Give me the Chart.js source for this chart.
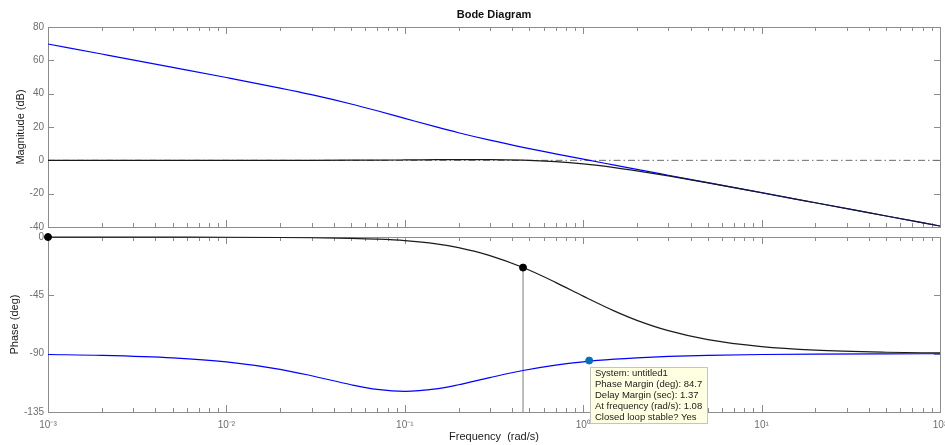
<!DOCTYPE html>
<html>
<head>
<meta charset="utf-8">
<script src="https://cdn.jsdelivr.net/npm/chart.js@4.4.1/dist/chart.umd.min.js"></script>
<style>
body { margin: 0; background: #fff; }
#wrap { position: relative; width: 945px; height: 445px; overflow: hidden; }
#mag { position: absolute; left: 0; top: 0; }
#phase { position: absolute; left: 0; top: 226px; }
</style>
</head>
<body>
<div id="wrap">
	<canvas id="mag" width="945" height="240"></canvas>
	<canvas id="phase" width="945" height="219"></canvas>
</div>
<script>
// values (rad/s, dB, deg)
var freq = [0.001, 0.002, 0.005, 0.01, 0.02, 0.03, 0.05, 0.07, 0.1, 0.15, 0.2, 0.3, 0.46, 0.7, 1, 1.5, 2, 3, 5, 10, 20, 50, 100];
var magOpen = [69.8, 63.78, 55.79, 49.69, 43.37, 39.39, 33.82, 29.75, 25.19, 20.03, 16.56, 12.08, 7.8, 3.9, 0.68, -2.89, -5.42, -8.95, -13.39, -19.42, -25.44, -33.4, -39.42];
var magClosed = [0, 0, 0, 0, 0.01, 0.03, 0.07, 0.13, 0.23, 0.37, 0.45, 0.44, 0.08, -0.83, -2.18, -4.38, -6.31, -9.37, -13.54, -19.46, -25.45, -33.4, -39.42];
var phaseOpen = [-90.64, -91.27, -93.18, -96.28, -102.07, -107.02, -113.98, -117.58, -119.08, -117.18, -113.98, -108.45, -103.0, -98.85, -96.28, -94.23, -93.18, -92.12, -91.28, -90.63, -90.32, -90.13, -90.06];
var phaseClosed = [-0.02, -0.04, -0.1, -0.19, -0.38, -0.58, -1.08, -1.68, -2.82, -5.32, -8.22, -14.37, -23.58, -34.98, -45.63, -57.19, -64.29, -72.25, -79.15, -84.52, -87.26, -88.9, -89.46];
var magTicks = [-40, -20, 0, 20, 40, 60, 80];
var phaseTicks = [-135, -90, -45, 0];
var crossFreq = 0.46, crossPhase = -23.58;
var marginFreq = 1.08, marginPhase = -95.3;
var marginText = ["System: untitled1", "Phase Margin (deg): 84.7", "Delay Margin (sec): 1.37", "At frequency (rad/s): 1.08", "Closed loop stable? Yes"];

Chart.defaults.font.family = "'Liberation Sans', Arial, sans-serif";

function pts(ys) {
	return freq.map(function (f, i) { return { x: f, y: ys[i] }; });
}

var sup = { "-": "\u207B", "0": "\u2070", "1": "\u00B9", "2": "\u00B2", "3": "\u00B3" };
function decadeLabel(v) {
	var e = Math.round(Math.log10(v));
	if (Math.abs(v / Math.pow(10, e) - 1) > 1e-6) return "";
	return "10" + String(e).split("").map(function (c) { return sup[c]; }).join("");
}

// matlab style box with inward ticks
var frame = {
	id: "frame",
	beforeDatasetsDraw: function (chart) {
		var ctx = chart.ctx, a = chart.chartArea, xs = chart.scales.x, ys = chart.scales.y;
		ctx.save();
		ctx.strokeStyle = "#8c8c8c";
		ctx.lineWidth = 1;
		ctx.beginPath();
		for (var e = -3; e <= 2; e++) {
			for (var k = 1; k <= 9; k++) {
				var v = k * Math.pow(10, e);
				if (v > 100.001) break;
				var px = Math.round(xs.getPixelForValue(v)) + 0.5;
				var len = k === 1 ? 7 : 4;
				ctx.moveTo(px, a.top); ctx.lineTo(px, a.top + len);
				ctx.moveTo(px, a.bottom); ctx.lineTo(px, a.bottom - len);
			}
		}
		ys.ticks.forEach(function (t) {
			var py = Math.round(ys.getPixelForValue(t.value)) + 0.5;
			ctx.moveTo(a.left, py); ctx.lineTo(a.left + 6, py);
			ctx.moveTo(a.right, py); ctx.lineTo(a.right - 6, py);
		});
		ctx.stroke();
		ctx.strokeRect(Math.round(a.left) + 0.5, Math.round(a.top) + 0.5, Math.round(a.right - a.left), Math.round(a.bottom - a.top));
		ctx.restore();
	}
};

var dataTip = {
	id: "dataTip",
	afterDraw: function (chart) {
		var ctx = chart.ctx, xs = chart.scales.x, ys = chart.scales.y;
		var x0 = Math.round(xs.getPixelForValue(marginFreq)) + 1;
		var y0 = Math.round(ys.getPixelForValue(marginPhase)) + 6;
		ctx.save();
		ctx.fillStyle = "#ffffe1";
		ctx.fillRect(x0, y0, 117, 56);
		ctx.strokeStyle = "#c4c4c4";
		ctx.strokeRect(x0 + 0.5, y0 + 0.5, 117, 56);
		ctx.fillStyle = "#1a1a1a";
		ctx.font = "9.5px 'Liberation Sans', Arial, sans-serif";
		ctx.textBaseline = "middle";
		marginText.forEach(function (s, i) {
			ctx.fillText(s, x0 + 5, y0 + 6 + i * 11.2);
		});
		ctx.restore();
	}
};

new Chart(document.getElementById("mag"), {
	type: "line",
	data: {
		datasets: [
			{ data: pts(magClosed), borderColor: "#1a1a1a", borderWidth: 1.2, order: 1 },
			{ data: pts(magOpen), borderColor: "#0000ff", borderWidth: 1.2, order: 2 },
			{ data: [{ x: freq[0], y: 0 }, { x: freq[freq.length - 1], y: 0 }], borderColor: "#6a6a6a", borderWidth: 1, borderDash: [7, 3, 1.5, 3], order: 3 },
		],
	},
	options: {
		responsive: false,
		animation: false,
		events: [],
		layout: { padding: { top: 0, right: 5, bottom: 13, left: 0 } },
		elements: { point: { radius: 0 }, line: { cubicInterpolationMode: "monotone", fill: false } },
		plugins: {
			legend: { display: false },
			tooltip: { enabled: false },
			title: {
				display: true,
				text: "Bode Diagram",
				fullSize: false,
				color: "#111",
				font: { size: 11, weight: "bold" },
				padding: { top: 8, bottom: 5.8 },
			},
		},
		scales: {
			x: {
				type: "logarithmic",
				min: 0.001,
				max: 100,
				grid: { display: false, drawTicks: false },
				border: { display: false },
				ticks: { display: false },
				afterFit: function (s) { s.height = 0; s.paddingLeft = 0; s.paddingRight = 0; },
			},
			y: {
				min: -40,
				max: 80,
				afterBuildTicks: function (s) { s.ticks = magTicks.map(function (v) { return { value: v }; }); },
				grid: { display: false, drawTicks: false },
				border: { display: false },
				ticks: { color: "#6e6e6e", font: { size: 10 }, padding: 4 },
				title: { display: true, text: "Magnitude (dB)", color: "#1a1a1a", font: { size: 11 }, padding: { top: 14, bottom: 0 } },
				afterFit: function (s) { s.width = 48; },
			},
		},
	},
	plugins: [frame],
});

new Chart(document.getElementById("phase"), {
	type: "line",
	data: {
		datasets: [
			{ data: [{ x: freq[0], y: phaseClosed[0] }, { x: crossFreq, y: crossPhase }], showLine: false, pointRadius: 3.5, pointBackgroundColor: "#000", pointBorderColor: "#000", clip: false, order: 0 },
			{ data: [{ x: marginFreq, y: marginPhase }], showLine: false, pointRadius: 3.5, pointBackgroundColor: "#0072bd", pointBorderColor: "#0072bd", clip: false, order: 0 },
			{ data: pts(phaseClosed), borderColor: "#1a1a1a", borderWidth: 1.2, order: 1, clip: 2 },
			{ data: pts(phaseOpen), borderColor: "#0000ff", borderWidth: 1.2, order: 2 },
			{ data: [{ x: crossFreq, y: crossPhase }, { x: crossFreq, y: phaseTicks[0] }], borderColor: "#a8a8a8", borderWidth: 1.5, order: 3 },
		],
	},
	options: {
		responsive: false,
		animation: false,
		events: [],
		layout: { padding: { top: 11, right: 5, bottom: 0, left: 0 } },
		elements: { point: { radius: 0 }, line: { cubicInterpolationMode: "monotone", fill: false } },
		plugins: { legend: { display: false }, tooltip: { enabled: false } },
		scales: {
			x: {
				type: "logarithmic",
				min: 0.001,
				max: 100,
				grid: { display: false, drawTicks: false },
				border: { display: false },
				ticks: { color: "#6e6e6e", font: { size: 10 }, padding: 7, autoSkip: false, maxRotation: 0, callback: function (v) { return decadeLabel(v); } },
				title: { display: true, text: "Frequency  (rad/s)", color: "#1a1a1a", font: { size: 11 }, padding: { top: 0, bottom: 1 } },
				afterFit: function (s) { s.height = 33; s.paddingLeft = 0; s.paddingRight = 0; },
			},
			y: {
				min: -135,
				max: 0,
				afterBuildTicks: function (s) { s.ticks = phaseTicks.map(function (v) { return { value: v }; }); },
				grid: { display: false, drawTicks: false },
				border: { display: false },
				ticks: { color: "#6e6e6e", font: { size: 10 }, padding: 4 },
				title: { display: true, text: "Phase (deg)", color: "#1a1a1a", font: { size: 11 }, padding: { top: 8, bottom: 0 } },
				afterFit: function (s) { s.width = 48; },
			},
		},
	},
	plugins: [frame, dataTip],
});
</script>
</body>
</html>
